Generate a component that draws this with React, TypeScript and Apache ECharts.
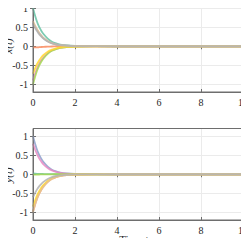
import React, { useEffect, useRef } from "react";
import * as echarts from "echarts";

const times = [0, 0.1, 0.2, 0.3, 0.4, 0.5, 0.7, 0.9, 1.1, 1.3, 1.6, 2, 3, 5, 10];

const colors = ["#66c2a5", "#fc8d62", "#8da0cb", "#e78ac3", "#a6d854", "#ffd92f", "#e5c494", "#b3b3b3"];

const xSeries = [
  [1.0, 0.8, 0.63, 0.5, 0.4, 0.32, 0.2, 0.12, 0.075, 0.045, 0.022, 0.008, 0.001, 0, 0],
  [-0.02, -0.03, -0.03, -0.025, -0.02, -0.016, -0.01, -0.006, -0.004, -0.002, -0.001, 0, 0, 0, 0],
  [0.62, 0.52, 0.42, 0.34, 0.27, 0.21, 0.13, 0.08, 0.05, 0.03, 0.014, 0.005, 0.001, 0, 0],
  [-0.9, -0.72, -0.57, -0.45, -0.36, -0.29, -0.18, -0.11, -0.068, -0.04, -0.02, -0.007, -0.001, 0, 0],
  [-1.0, -0.8, -0.63, -0.5, -0.4, -0.32, -0.2, -0.12, -0.075, -0.045, -0.022, -0.008, -0.001, 0, 0],
  [-0.72, -0.58, -0.46, -0.37, -0.29, -0.23, -0.145, -0.09, -0.055, -0.033, -0.016, -0.006, -0.001, 0, 0],
  [0.66, 0.54, 0.44, 0.35, 0.28, 0.22, 0.14, 0.085, 0.052, 0.031, 0.015, 0.005, 0.001, 0, 0],
  [0.58, 0.48, 0.39, 0.31, 0.25, 0.2, 0.125, 0.075, 0.046, 0.028, 0.013, 0.005, 0.001, 0, 0],
];

const ySeries = [
  [0.02, 0.015, 0.012, 0.01, 0.008, 0.006, 0.004, 0.002, 0.001, 0, 0, 0, 0, 0, 0],
  [-0.98, -0.79, -0.62, -0.5, -0.4, -0.31, -0.2, -0.12, -0.073, -0.044, -0.021, -0.008, -0.001, 0, 0],
  [1.0, 0.8, 0.63, 0.5, 0.4, 0.32, 0.2, 0.12, 0.075, 0.045, 0.022, 0.008, 0.001, 0, 0],
  [0.8, 0.65, 0.52, 0.41, 0.33, 0.26, 0.165, 0.1, 0.062, 0.037, 0.018, 0.006, 0.001, 0, 0],
  [-0.01, -0.01, -0.008, -0.006, -0.005, -0.004, -0.002, -0.001, 0, 0, 0, 0, 0, 0, 0],
  [-0.85, -0.69, -0.55, -0.44, -0.35, -0.28, -0.175, -0.105, -0.065, -0.039, -0.019, -0.007, -0.001, 0, 0],
  [-1.0, -0.8, -0.64, -0.51, -0.41, -0.33, -0.205, -0.125, -0.077, -0.046, -0.022, -0.008, -0.001, 0, 0],
  [-0.6, -0.49, -0.39, -0.31, -0.25, -0.2, -0.125, -0.075, -0.046, -0.028, -0.013, -0.005, -0.001, 0, 0],
];

const yTicks = [-1, -0.5, 0, 0.5, 1];
const yTickLabels = ["-1", "-0.5", "0", "0.5", "1"];
const xLabelName = "x(t)";
const yLabelName = "y(t)";
const timeLabel = "Time";

const FONT = "Liberation Serif";
const AX = "#6e6e6e";
const TXT = "#262626";

export default function App() {
  const ref = useRef<HTMLDivElement>(null);
  useEffect(() => {
    if (!ref.current) return;
    const chart = echarts.init(ref.current, null, { renderer: "svg" });
    const gridBase = {
      left: 33,
      right: 6,
      height: 91.5,
      outerBoundsMode: "none",
      containLabel: false,
      show: true,
      borderColor: AX,
      borderWidth: 1,
      backgroundColor: "transparent",
      z: 3,
    };
    const grids = [
      { ...gridBase, top: 0.5 },
      { ...gridBase, top: 128.5 },
    ];
    const xAxes: any[] = [];
    const yAxes: any[] = [];
    grids.forEach((_, gi) => {
      xAxes.push({
        type: "value",
        gridIndex: gi,
        min: 0,
        max: 10,
        interval: 2,
        position: "bottom",
        axisLine: { show: true, onZero: false, lineStyle: { color: AX, width: 1 } },
        axisTick: { show: true, inside: true, length: 3, lineStyle: { color: AX } },
        axisLabel: { show: true, fontFamily: FONT, fontSize: 10, color: TXT, margin: 5 },
        splitLine: { show: true, lineStyle: { color: "#ebebeb", width: 1 } },
      });
      xAxes.push({
        type: "value",
        gridIndex: gi,
        min: 0,
        max: 10,
        interval: 2,
        position: "top",
        axisLine: { show: false },
        axisTick: { show: true, inside: true, length: 3, lineStyle: { color: AX } },
        axisLabel: { show: false },
        splitLine: { show: false },
      });
      yAxes.push({
        type: "value",
        gridIndex: gi,
        min: -1.2,
        max: 1.2,
        position: "left",
        axisLine: { show: true, onZero: false, lineStyle: { color: AX, width: 1 } },
        axisTick: { show: true, inside: true, length: 3, lineStyle: { color: AX }, customValues: yTicks },
        axisLabel: { show: false },
        splitLine: { show: true, lineStyle: { color: "#ebebeb", width: 1 } },
      });
      yAxes.push({
        type: "value",
        gridIndex: gi,
        min: -1.2,
        max: 1.2,
        position: "right",
        axisLine: { show: false },
        axisTick: { show: true, inside: true, length: 3, lineStyle: { color: AX }, customValues: yTicks },
        axisLabel: { show: false },
        splitLine: { show: false },
      });
    });
    const series: any[] = [];
    [xSeries, ySeries].forEach((set, gi) => {
      set.forEach((vals, i) => {
        series.push({
          type: "line",
          xAxisIndex: gi * 2,
          yAxisIndex: gi * 2,
          data: vals.map((v, k) => [times[k], v]),
          smooth: 0.3,
          symbol: "none",
          lineStyle: { color: colors[i], width: 1.8, opacity: 0.85 },
          z: 2,
        });
      });
    });
    chart.setOption({
      animation: false,
      grid: grids,
      xAxis: xAxes,
      yAxis: yAxes,
      series,
    });

    const labelEls: any[] = [];
    [0, 1].forEach((gi) => {
      const x0 = chart.convertToPixel({ xAxisIndex: gi * 2 }, 0) as number;
      yTicks.forEach((v, k) => {
        const py = chart.convertToPixel({ yAxisIndex: gi * 2 }, v) as number;
        labelEls.push({
          type: "text",
          x: x0 - 5,
          y: py,
          z: 100,
          style: {
            text: yTickLabels[k],
            fontFamily: FONT,
            fontSize: 10,
            fill: TXT,
            align: "right",
            verticalAlign: "middle",
          },
        });
      });
    });
    const nameStyle = { fontFamily: FONT, fontSize: 11, fontStyle: "italic", fill: TXT, align: "center", verticalAlign: "middle" };
    chart.setOption({
      graphic: [
        ...labelEls,
        { type: "text", x: 8, y: 46, z: 100, rotation: Math.PI / 2, style: { ...nameStyle, text: xLabelName } },
        { type: "text", x: 8, y: 175, z: 100, rotation: Math.PI / 2, style: { ...nameStyle, text: yLabelName } },
        { type: "text", x: 142, y: 239, z: 100, style: { fontFamily: FONT, fontSize: 11, fill: TXT, align: "right", verticalAlign: "middle", text: timeLabel } },
        { type: "text", x: 145, y: 239, z: 100, style: { fontFamily: FONT, fontSize: 11, fontStyle: "italic", fill: TXT, align: "left", verticalAlign: "middle", text: "t" } },
      ],
    });
    return () => chart.dispose();
  }, []);
  return <div ref={ref} style={{ width: 249, height: 246, margin: -8 }} />;
}
